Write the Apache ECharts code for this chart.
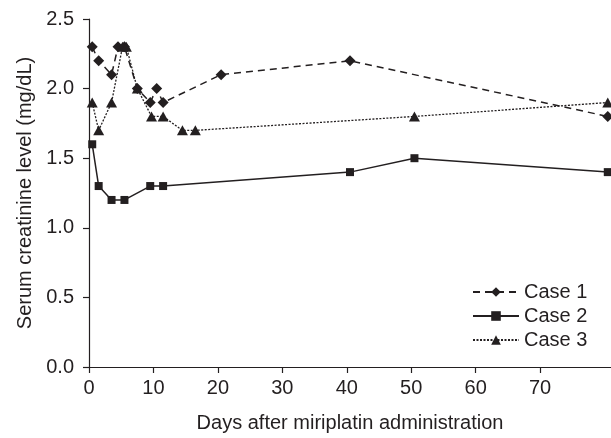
<!DOCTYPE html>
<html>
<head>
<meta charset="utf-8">
<script src="https://cdn.jsdelivr.net/npm/echarts@6/dist/echarts.min.js"></script>
<style>
  html, body {margin: 0; padding: 0; background: #fff;}
  #chart {width: 611px; height: 438px;}
</style>
</head>
<body>
<div id="chart"></div>
<script>
// [day, mg/dL]
let case1 = [[0.5, 2.3], [1.5, 2.2], [3.5, 2.1], [4.5, 2.3], [5.5, 2.3], [7.5, 2.0], [9.5, 1.9],
    [10.5, 2.0], [11.5, 1.9], [20.5, 2.1], [40.5, 2.2], [80.5, 1.8]];
let case2 = [[0.5, 1.6], [1.5, 1.3], [3.5, 1.2], [5.5, 1.2], [9.5, 1.3], [11.5, 1.3], [40.5, 1.4],
    [50.5, 1.5], [80.5, 1.4]];
let case3 = [[0.5, 1.9], [1.5, 1.7], [3.5, 1.9], [5.2, 2.3], [5.8, 2.3], [7.5, 2.0], [9.7, 1.8],
    [11.5, 1.8], [14.5, 1.7], [16.5, 1.7], [50.5, 1.8], [80.5, 1.9]];
let xTicks = [0, 10, 20, 30, 40, 50, 60, 70];
let yTicks = [0, 0.5, 1.0, 1.5, 2.0, 2.5];

let ink = '#231f20';
let font = 'Liberation Sans';

let chart = echarts.init(document.getElementById('chart'), null, {renderer: 'canvas'});

let lineSeries = (name, data, symbol, size, type, width) => ({
    type: 'line',
    name: name,
    data: data,
    symbol: symbol,
    symbolSize: size,
    color: ink,
    itemStyle: {color: ink},
    lineStyle: {color: ink, width: width, type: type},
    clip: false,
    z: 2
});

chart.setOption({
    animation: false,
    textStyle: {fontFamily: font, color: ink},
    grid: {left: 89, right: 0, top: 19, bottom: 68},
    legend: {
        orient: 'vertical',
        left: 467,
        top: 277,
        itemWidth: 46,
        itemHeight: 12,
        itemGap: 4,
        textStyle: {fontFamily: font, fontSize: 20, color: ink},
        data: ['Case 1', 'Case 2', 'Case 3']
    },
    xAxis: {
        type: 'value',
        min: 0,
        max: 81,
        interval: 10,
        name: 'Days after miriplatin administration',
        nameLocation: 'middle',
        nameGap: 46,
        nameTextStyle: {fontFamily: font, fontSize: 20, color: ink},
        axisLine: {show: true, lineStyle: {color: ink, width: 1.2}},
        axisTick: {show: true, length: 6, lineStyle: {color: ink, width: 1.2}, customValues: xTicks},
        axisLabel: {fontFamily: font, fontSize: 20, color: ink, margin: 11, customValues: xTicks},
        splitLine: {show: false}
    },
    yAxis: {
        type: 'value',
        min: 0,
        max: 2.5,
        interval: 0.5,
        name: 'Serum creatinine level (mg/dL)',
        nameLocation: 'middle',
        nameGap: 53,
        nameTextStyle: {fontFamily: font, fontSize: 20, color: ink},
        axisLine: {show: true, lineStyle: {color: ink, width: 1.2}},
        axisTick: {show: true, length: 6, lineStyle: {color: ink, width: 1.2}, customValues: yTicks},
        axisLabel: {
            fontFamily: font, fontSize: 20, color: ink, margin: 15, customValues: yTicks,
            formatter: v => v.toFixed(1)
        },
        splitLine: {show: false}
    },
    series: [
        lineSeries('Case 1', case1, 'diamond', 11, [7, 5], 1.5),
        lineSeries('Case 2', case2, 'rect', 8, 'solid', 1.5),
        lineSeries('Case 3', case3, 'triangle', [11, 10], [2, 1.5], 1.3)
    ]
});

window.addEventListener('resize', chart.resize);
</script>
</body>
</html>
